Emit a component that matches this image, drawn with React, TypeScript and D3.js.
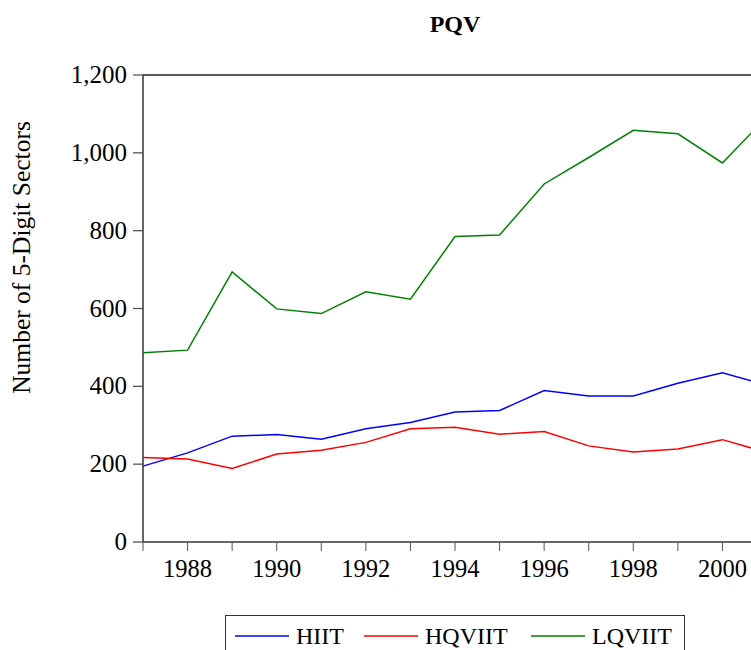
import React from "react";
import * as d3 from "d3";

// values
const years = [1987, 1988, 1989, 1990, 1991, 1992, 1993, 1994, 1995, 1996, 1997, 1998, 1999, 2000, 2001];
const hiit = [195, 229, 272, 276, 264, 291, 307, 334, 338, 389, 375, 375, 408, 435, 403];
const hqviit = [217, 213, 189, 226, 236, 256, 291, 295, 277, 284, 247, 231, 239, 263, 230];
const lqviit = [486, 493, 694, 599, 587, 643, 624, 785, 789, 920, 988, 1058, 1049, 974, 1093];
const yTicks = [0, 200, 400, 600, 800, 1000, 1200];
const xLabelYears = [1988, 1990, 1992, 1994, 1996, 1998, 2000];

const series = [
  { name: "HIIT", values: hiit, color: "#0000ff" },
  { name: "HQVIIT", values: hqviit, color: "#ff0000" },
  { name: "LQVIIT", values: lqviit, color: "#008000" },
];

const width = 751;
const height = 650;
const margin = { top: 75, right: -16, bottom: 108, left: 143 };
const font = "'Liberation Serif', 'Times New Roman', serif";

export default function App() {
  const x = d3
    .scaleLinear()
    .domain([1987, 2001])
    .range([margin.left, width - margin.right]);
  const y = d3
    .scaleLinear()
    .domain([0, 1200])
    .range([height - margin.bottom, margin.top]);

  const line = (vals: number[]) =>
    d3
      .line<number>()
      .x((_, i) => x(years[i]))
      .y((d) => y(d))(vals) as string;

  const x0 = x.range()[0];
  const x1 = x.range()[1];
  const yBottom = y(0);
  const yTop = y(1200);
  const fmt = d3.format(",");

  // legend layout
  const legend = [
    { lx: 235, tx: 296 },
    { lx: 364, tx: 425 },
    { lx: 531, tx: 592 },
  ];

  return (
    <svg
      width={width}
      height={height}
      style={{ position: "absolute", left: 0, top: 0, background: "#fff" }}
      fontFamily={font}
    >
      {/* title */}
      <text x={(x0 + x1) / 2} y={32} textAnchor="middle" fontSize={24} fontWeight="bold">
        PQV
      </text>

      {/* y axis title */}
      <text
        transform={`translate(29.5, 257.5) rotate(-90)`}
        textAnchor="middle"
        fontSize={25.5}
      >
        Number of 5-Digit Sectors
      </text>

      {/* frame */}
      <line x1={x0} y1={yTop} x2={x1} y2={yTop} stroke="#222" strokeWidth={1.3} />
      <line x1={x0} y1={yTop} x2={x0} y2={yBottom} stroke="#333" strokeWidth={1.5} />
      <line x1={x0} y1={yBottom} x2={x1} y2={yBottom} stroke="#333" strokeWidth={1.5} />

      {/* y ticks */}
      {yTicks.map((t) => (
        <g key={`y-${t}`}>
          <line x1={x0 - 10} y1={y(t)} x2={x0} y2={y(t)} stroke="#555" strokeWidth={1.3} />
          <text x={127} y={y(t) + 8} textAnchor="end" fontSize={25}>
            {fmt(t)}
          </text>
        </g>
      ))}

      {/* x ticks */}
      {years.map((yr) => (
        <line
          key={`x-${yr}`}
          x1={x(yr)}
          y1={yBottom}
          x2={x(yr)}
          y2={yBottom + 9}
          stroke="#555"
          strokeWidth={1}
        />
      ))}
      {xLabelYears.map((yr) => (
        <text key={`xl-${yr}`} x={x(yr)} y={yBottom + 35} textAnchor="middle" fontSize={24.5}>
          {yr}
        </text>
      ))}

      {/* lines */}
      {series.map((s) => (
        <path key={s.name} d={line(s.values)} fill="none" stroke={s.color} strokeWidth={1.5} />
      ))}

      {/* legend */}
      <rect x={225.5} y={615.5} width={459} height={50} fill="none" stroke="#333" strokeWidth={1} />
      {series.map((s, i) => (
        <g key={`lg-${s.name}`}>
          <line
            x1={legend[i].lx}
            y1={636}
            x2={legend[i].lx + 54}
            y2={636}
            stroke={s.color}
            strokeWidth={1.5}
          />
          <text x={legend[i].tx} y={644} fontSize={24}>
            {s.name}
          </text>
        </g>
      ))}
    </svg>
  );
}
